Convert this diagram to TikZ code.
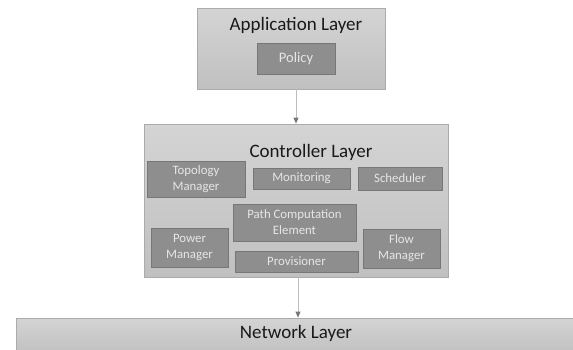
\documentclass[tikz,border=0pt]{standalone}
\usepackage{fontspec}
\setmainfont{Carlito}
\usetikzlibrary{arrows.meta}
\definecolor{outerTop}{HTML}{D4D4D4}
\definecolor{outerBot}{HTML}{C0C0C0}
\definecolor{outerLine}{HTML}{ABABAB}
\definecolor{innerFill}{HTML}{8E8E8E}
\definecolor{innerLine}{HTML}{777777}
\definecolor{innerText}{HTML}{E6E6E6}
\definecolor{arrowLine}{HTML}{BDBDBD}
\definecolor{arrowHead}{HTML}{777777}
\tikzset{
  outerbox/.style={draw=outerLine, line width=0.8pt, top color=outerTop, bottom color=outerBot, inner sep=0pt},
  innerbox/.style={draw=innerLine, line width=0.8pt, fill=innerFill, text=innerText, inner sep=0pt,
    align=center, font=\fontsize{12.8}{16}\selectfont},
  title/.style={font=\fontsize{19}{22}\selectfont, text=black!90, inner sep=0pt},
  conn/.style={draw=arrowLine, line width=0.8pt, -{Triangle[length=6pt,width=5pt,fill=arrowHead,color=arrowHead]}}
}
\begin{document}
\begin{tikzpicture}[x=1pt,y=-1pt]
\useasboundingbox (0,0) rectangle (573,349);
% Application layer
\node[outerbox, minimum width=188pt, minimum height=81pt] (app) at (291,48.5) {};
\node[title] (apptitle) at (296,25) {Application Layer};
\node[innerbox, minimum width=78pt, minimum height=31pt, font=\fontsize{14.5}{16}\selectfont] (policy) at (296,58.5) {Policy};
% Controller layer
\node[outerbox, minimum width=304pt, minimum height=153pt] (ctrl) at (296,200.5) {};
\node[title] (ctrltitle) at (311,152) {Controller Layer};
\node[innerbox, minimum width=98pt, minimum height=36pt] (topo) at (196,179) {Topology\\Manager};
\node[innerbox, minimum width=97pt, minimum height=21pt] (mon) at (301.5,178.5) {Monitoring};
\node[innerbox, minimum width=84pt, minimum height=23pt] (sched) at (400,178.5) {Scheduler};
\node[innerbox, minimum width=123pt, minimum height=37pt] (pce) at (294.5,222.5) {Path Computation\\Element};
\node[innerbox, minimum width=123pt, minimum height=21pt] (prov) at (296.5,261.5) {Provisioner};
\node[innerbox, minimum width=77pt, minimum height=39pt] (flow) at (401.5,248.5) {Flow\\Manager};
\node[innerbox, minimum width=77pt, minimum height=39pt] (power) at (189.5,247.5) {Power\\Manager};
% Network layer
\node[outerbox, minimum width=562pt, minimum height=36pt] (net) at (297,336) {};
\node[title] (nettitle) at (296,333) {Network Layer};
% connectors
\coordinate (a1) at (296,89);
\coordinate (a2) at (296,124);
\coordinate (b1) at (298,277);
\coordinate (b2) at (298,318);
\draw[conn] (app.south -| a1) -- (ctrl.north -| a2);
\draw[conn] (ctrl.south -| b1) -- (net.north -| b2);
\end{tikzpicture}
\end{document}
